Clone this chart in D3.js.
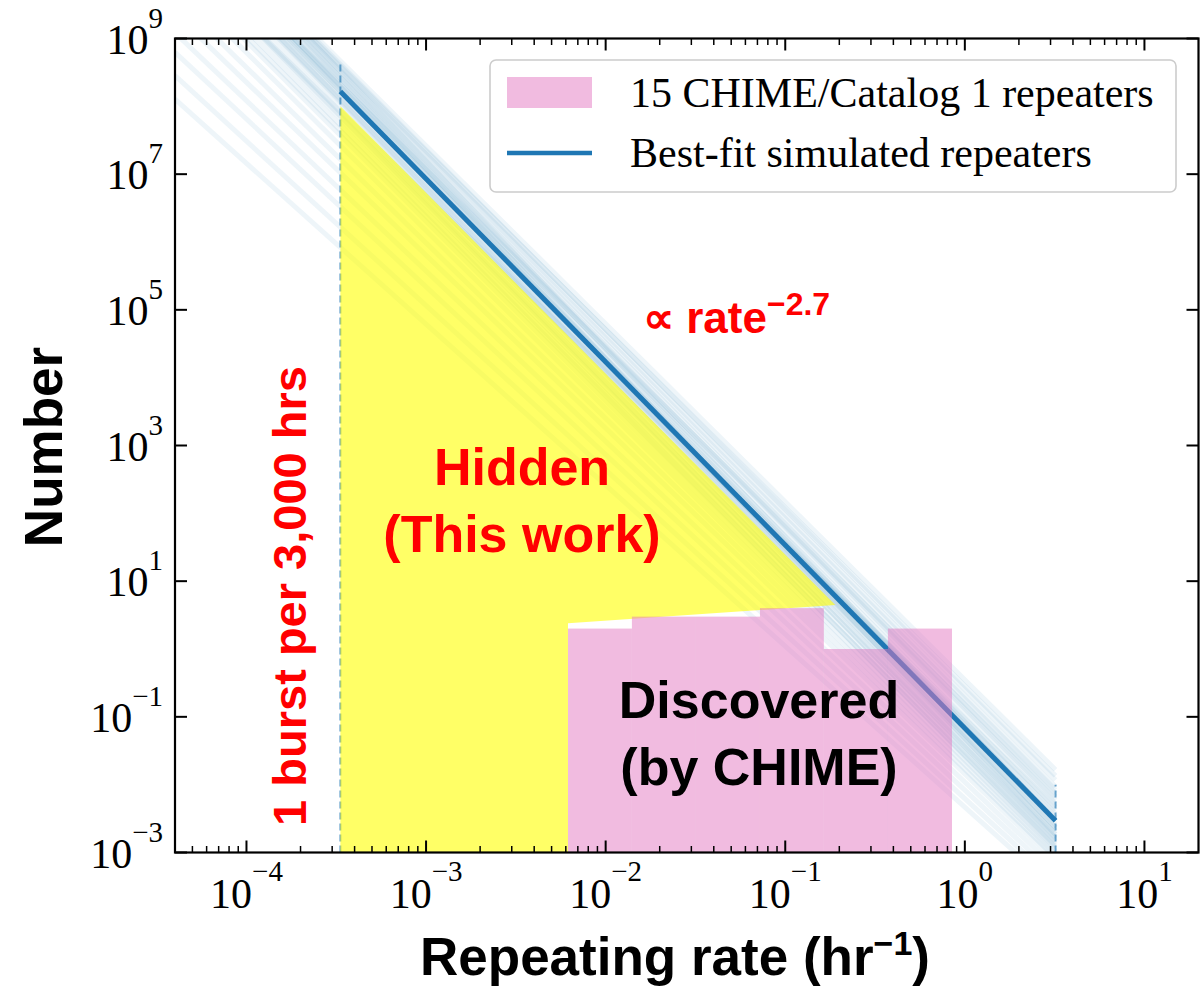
<!DOCTYPE html>
<html>
<head>
<meta charset="utf-8">
<script src="https://cdn.jsdelivr.net/npm/d3@7"></script>
<style>
  html, body { margin: 0; padding: 0; background: #ffffff; }
  svg { display: block; }
</style>
</head>
<body>
<svg id="chart" width="1202" height="992"></svg>
<script>
// ---- data ----------------------------------------------------------------
const xLimits = [4e-5, 20];          // repeating rate (hr^-1)
const yLimits = [1e-3, 1e9];         // number of sources
const xTickExponents = [-4, -3, -2, -1, 0, 1];
const yTickExponents = [9, 7, 5, 3, 1, -1, -3];

// rate window of the simulated populations: 1 burst per 3,000 hr up to the bright end
const rateWindow = [1 / 3000, 3.2];
const windowMarkerTop = [4.3e8, 1e-2];

// best-fit power law  N = norm * (rate / rateWindow[0]) ^ index
const bestFitNorm = 1.66e8;
const bestFitIndex = -2.7;

// simulated realisations: number at the low and high end of the rate window
const simNLow = [4.68e8, 4.17e8, 3.72e8, 3.31e8, 2.95e8, 2.63e8, 2.34e8, 2.09e8, 1.86e8, 1.66e8,
                 1.66e8, 1.48e8, 1.32e8, 1.17e8, 1.05e8, 8.32e7, 6.61e7, 5.25e7, 3.72e7, 2.63e7,
                 1.66e7, 1.05e7, 5.89e6, 3.31e6, 1.66e6, 8.32e5, 3.31e8, 2.63e8, 8.32e7, 2.09e8,
                 3.9e8, 1.95e8, 1.25e8, 7.2e7, 4.4e7];
const simNHigh = [1.66e-2, 1.17e-2, 9.33e-3, 8.32e-3, 6.61e-3, 5.89e-3, 5.25e-3, 4.17e-3, 3.72e-3, 3.31e-3,
                  2.63e-3, 2.34e-3, 2.34e-3, 1.86e-3, 1.66e-3, 1.48e-3, 1.32e-3, 1.17e-3, 1.05e-3, 9.33e-4,
                  8.32e-4, 7.41e-4, 5.89e-4, 4.68e-4, 3.72e-4, 2.95e-4, 2.95e-3, 1.86e-3, 4.68e-3, 7.41e-3,
                  1.35e-2, 3.0e-3, 2.1e-3, 1.6e-3, 1.25e-3];

// hidden population outline (rate, number)
const hiddenRate = [1 / 3000, 0.19, 6.17e-3, 6.17e-3, 1 / 3000];
const hiddenN    = [1.0e8,    4.45,  2.4,    1e-3,    1e-3];

// CHIME/Catalog 1 repeaters: log-spaced rate bins and counts (15 in total)
const chimeBinEdges = [6.17e-3, 0.0140, 0.0318, 0.0723, 0.164, 0.373, 0.848];
const chimeCounts   = [2, 3, 3, 4, 1, 2];

const legendLabels = ["15 CHIME/Catalog 1 repeaters", "Best-fit simulated repeaters"];

// ---- layout ----------------------------------------------------------------
const plot = { left: 175, top: 38.5, right: 1198.5, bottom: 852.5 };
const W = plot.right - plot.left, H = plot.bottom - plot.top;

const colBlue = "#1f77b4";
const colPink = "#e377c2";
const colYellow = "#ffff00";
const serif = "'Liberation Serif', 'Times New Roman', serif";
const sans = "'Liberation Sans', Arial, Helvetica, sans-serif";

const svg = d3.select("#chart");
const g = svg.append("g").attr("transform", `translate(${plot.left},${plot.top})`);

const x = d3.scaleLog().domain(xLimits).range([0, W]);
const y = d3.scaleLog().domain(yLimits).range([H, 0]);

svg.append("defs").append("clipPath").attr("id", "plotClip")
  .append("rect").attr("width", W).attr("height", H);

const body = g.append("g").attr("clip-path", "url(#plotClip)");
const line = d3.line().x(d => x(d[0])).y(d => y(d[1]));

// simulated power laws, drawn from the left edge to the bright end of the window
simNLow.forEach((nLo, i) => {
  const nHi = simNHigh[i];
  const idx = Math.log10(nHi / nLo) / Math.log10(rateWindow[1] / rateWindow[0]);
  const at = r => nLo * Math.pow(r / rateWindow[0], idx);
  body.append("path")
    .datum([[xLimits[0], at(xLimits[0])], [rateWindow[1], nHi]])
    .attr("d", line)
    .attr("fill", "none")
    .attr("stroke", colBlue)
    .attr("stroke-opacity", 0.075)
    .attr("stroke-width", 5);
});

// best-fit line
const bestFit = r => bestFitNorm * Math.pow(r / rateWindow[0], bestFitIndex);
body.append("path")
  .datum(rateWindow.map(r => [r, bestFit(r)]))
  .attr("d", line)
  .attr("fill", "none")
  .attr("stroke", colBlue)
  .attr("stroke-width", 5);

// dashed markers at the window limits
rateWindow.forEach((r, i) => {
  body.append("line")
    .attr("x1", x(r)).attr("x2", x(r))
    .attr("y1", y(yLimits[0])).attr("y2", y(windowMarkerTop[i]))
    .attr("stroke", colBlue)
    .attr("stroke-opacity", 0.65)
    .attr("stroke-width", 2)
    .attr("stroke-dasharray", "7,4");
});

// hidden population
body.append("path")
  .datum(hiddenRate.map((r, i) => [r, hiddenN[i]]))
  .attr("d", d => line(d) + "Z")
  .attr("fill", colYellow)
  .attr("fill-opacity", 0.6)
  .attr("stroke", "none");

// discovered repeaters histogram
body.selectAll("rect.chime")
  .data(chimeCounts)
  .join("rect")
  .attr("class", "chime")
  .attr("x", (c, i) => x(chimeBinEdges[i]))
  .attr("width", (c, i) => x(chimeBinEdges[i + 1]) - x(chimeBinEdges[i]))
  .attr("y", c => y(c))
  .attr("height", c => y(yLimits[0]) - y(c))
  .attr("fill", colPink)
  .attr("fill-opacity", 0.5);

// ---- axes -------------------------------------------------------------------
const xMajor = xTickExponents.map(e => Math.pow(10, e));
const xMinor = [];
for (let e = -5; e <= 1; e++) {
  for (let m = 2; m <= 9; m++) {
    const v = m * Math.pow(10, e);
    if (v > xLimits[0] && v < xLimits[1]) xMinor.push(v);
  }
}
const yMajor = yTickExponents.map(e => Math.pow(10, e));

const axes = g.append("g").attr("stroke", "#000");
const majLen = 12, minLen = 6.5;
xMajor.forEach(v => {
  axes.append("line").attr("x1", x(v)).attr("x2", x(v)).attr("y1", H).attr("y2", H - majLen).attr("stroke-width", 2);
  axes.append("line").attr("x1", x(v)).attr("x2", x(v)).attr("y1", 0).attr("y2", majLen).attr("stroke-width", 2);
});
xMinor.forEach(v => {
  axes.append("line").attr("x1", x(v)).attr("x2", x(v)).attr("y1", H).attr("y2", H - minLen).attr("stroke-width", 1.5);
  axes.append("line").attr("x1", x(v)).attr("x2", x(v)).attr("y1", 0).attr("y2", minLen).attr("stroke-width", 1.5);
});
yMajor.forEach(v => {
  axes.append("line").attr("x1", 0).attr("x2", majLen).attr("y1", y(v)).attr("y2", y(v)).attr("stroke-width", 2);
  axes.append("line").attr("x1", W).attr("x2", W - majLen).attr("y1", y(v)).attr("y2", y(v)).attr("stroke-width", 2);
});
g.append("rect").attr("width", W).attr("height", H)
  .attr("fill", "none").attr("stroke", "#000").attr("stroke-width", 2.2);

// tick labels
const xLab = g.append("g").attr("font-family", serif).attr("font-size", 42).attr("fill", "#000");
xTickExponents.forEach(e => {
  const t = xLab.append("text").attr("x", x(Math.pow(10, e))).attr("y", H + 55).attr("text-anchor", "middle");
  t.append("tspan").text("10");
  t.append("tspan").attr("dy", -27).attr("font-size", 29).text(e < 0 ? "\u2212" + (-e) : String(e));
});
const yLab = g.append("g").attr("font-family", serif).attr("font-size", 42).attr("fill", "#000");
yTickExponents.forEach(e => {
  const t = yLab.append("text").attr("x", -12).attr("y", y(Math.pow(10, e)) + 15).attr("text-anchor", "end");
  t.append("tspan").text("10");
  t.append("tspan").attr("dy", -26).attr("font-size", 29).text(e < 0 ? "\u2212" + (-e) : String(e));
});

// axis titles
svg.append("text")
  .attr("transform", "translate(62,447) rotate(-90)")
  .attr("text-anchor", "middle")
  .attr("font-family", sans).attr("font-weight", "bold").attr("font-size", 53)
  .text("Number");
const xt = svg.append("text")
  .attr("x", 675).attr("y", 975)
  .attr("text-anchor", "middle")
  .attr("font-family", sans).attr("font-weight", "bold").attr("font-size", 53);
xt.append("tspan").text("Repeating rate (hr");
xt.append("tspan").attr("dy", -20).attr("font-size", 34).text("\u22121");
xt.append("tspan").attr("dy", 20).text(")");

// annotations
const ann = svg.append("g").attr("font-family", sans).attr("font-weight", "bold");
const pl = ann.append("text").attr("x", 643).attr("y", 333).attr("fill", "#ff0000").attr("font-size", 44);
pl.append("tspan").text("\u221d rate");
pl.append("tspan").attr("dy", -18).attr("font-size", 32).text("\u22122.7");

ann.append("text").attr("x", 522).attr("y", 485).attr("text-anchor", "middle")
  .attr("fill", "#ff0000").attr("font-size", 52).text("Hidden");
ann.append("text").attr("x", 522).attr("y", 552).attr("text-anchor", "middle")
  .attr("fill", "#ff0000").attr("font-size", 52).text("(This work)");
ann.append("text").attr("x", 759).attr("y", 718).attr("text-anchor", "middle")
  .attr("fill", "#000").attr("font-size", 52).text("Discovered");
ann.append("text").attr("x", 759).attr("y", 785).attr("text-anchor", "middle")
  .attr("fill", "#000").attr("font-size", 52).text("(by CHIME)");
ann.append("text").attr("transform", "translate(306,596) rotate(-90)").attr("text-anchor", "middle")
  .attr("fill", "#ff0000").attr("font-size", 47).text("1 burst per 3,000 hrs");

// legend
const leg = svg.append("g");
leg.append("rect").attr("x", 490).attr("y", 60).attr("width", 686).attr("height", 132)
  .attr("rx", 6).attr("fill", "#fff").attr("fill-opacity", 0.8)
  .attr("stroke", "#cccccc").attr("stroke-width", 1.6);
leg.append("rect").attr("x", 507).attr("y", 77).attr("width", 85).attr("height", 31)
  .attr("fill", colPink).attr("fill-opacity", 0.5);
leg.append("line").attr("x1", 507).attr("x2", 592).attr("y1", 153).attr("y2", 153)
  .attr("stroke", colBlue).attr("stroke-width", 4.5);
legendLabels.forEach((t, i) => {
  leg.append("text").attr("x", 630).attr("y", 107 + i * 60)
    .attr("font-family", serif).attr("font-size", 42).attr("fill", "#000").text(t);
});
</script>
</body>
</html>
